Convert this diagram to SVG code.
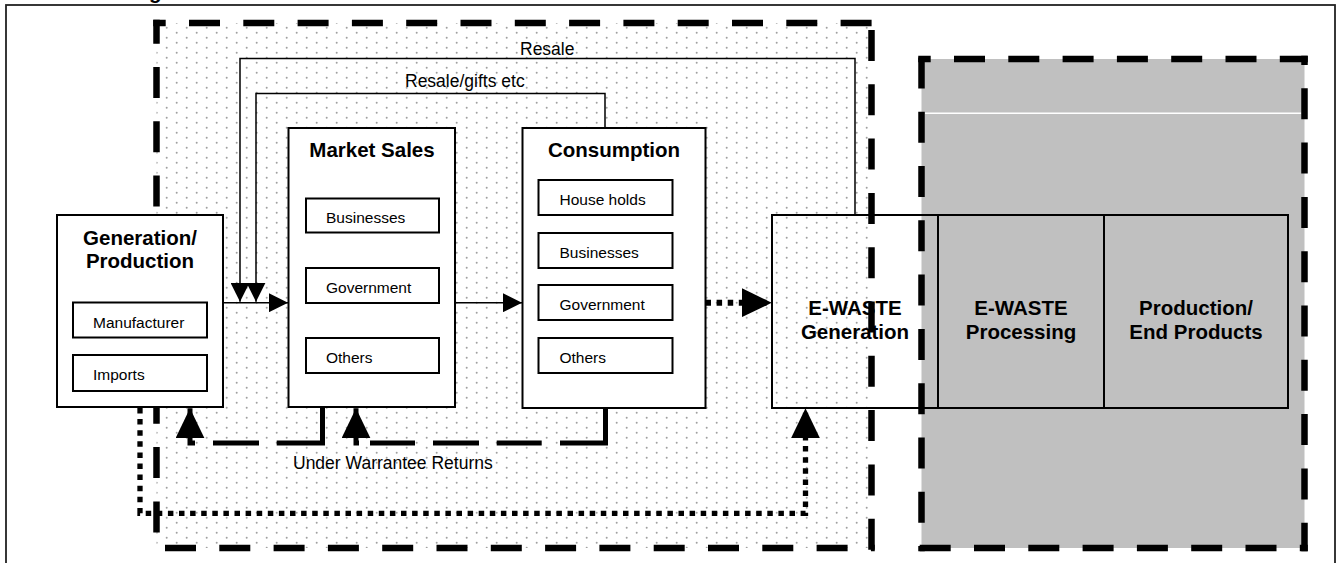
<svg xmlns="http://www.w3.org/2000/svg" width="1337" height="563" viewBox="0 0 1337 563">
<defs>
<style>
text{font-family:"Liberation Sans",Arial,sans-serif;fill:#000}
.title{font-size:20.5px;font-weight:bold;text-anchor:middle}
.lbl{font-size:15.5px}
.clbl{font-size:17.5px}
.box{fill:#fff;stroke:#000;stroke-width:2}
.open{fill:none;stroke:#000;stroke-width:2}
.conn{fill:none;stroke:#000;stroke-width:1.5}
.edge{stroke:#000;stroke-width:6.5;stroke-dasharray:31 23.3;fill:none}
.dot{fill:none;stroke:#000;stroke-dasharray:5.5 5.6}
.dash{fill:none;stroke:#000;stroke-width:5}
</style>
<pattern id="dots" width="20" height="10" patternUnits="userSpaceOnUse">
<rect width="20" height="10" fill="#fff"/>
<circle cx="6.7" cy="7.7" r="1" fill="#a0a0a0"/>
<circle cx="16.7" cy="2.7" r="1" fill="#a0a0a0"/>
</pattern>
<marker id="arrS" markerUnits="userSpaceOnUse" markerWidth="19" markerHeight="19" refX="19" refY="9.5" orient="auto">
<path d="M0,0 L19,9.5 L0,19 z" fill="#000"/>
</marker>
<marker id="arrB" markerUnits="userSpaceOnUse" markerWidth="30" markerHeight="29" refX="30" refY="14.5" orient="auto">
<path d="M0,0 L30,14.5 L0,29 z" fill="#000"/>
</marker>
</defs>

<text x="149" y="-1" style="font-size:20.5px;font-weight:bold">g</text>
<rect x="6" y="5" width="1329" height="620" fill="none" stroke="#222" stroke-width="1.8"/>

<g id="zone-market">
<rect x="156.5" y="23" width="715" height="525" fill="url(#dots)"/>
</g>
<g id="zone-recycling">
<rect x="921.5" y="59" width="383" height="489" fill="#c0c0c0"/>
<line x1="925" y1="113.3" x2="1301.5" y2="113.3" stroke="#fff" stroke-width="1.5"/>
</g>

<g id="ewaste-generation">
<rect class="open" x="772" y="215" width="166" height="193"/>
<text class="title" x="855" y="315">E-WASTE</text>
<text class="title" x="855" y="338.5">Generation</text>
</g>
<g id="ewaste-processing">
<rect class="open" x="938" y="215" width="166" height="193"/>
<text class="title" x="1021" y="315">E-WASTE</text>
<text class="title" x="1021" y="338.5">Processing</text>
</g>
<g id="end-products">
<rect class="open" x="1104" y="215" width="184" height="193"/>
<text class="title" x="1196" y="315">Production/</text>
<text class="title" x="1196" y="338.5">End Products</text>
</g>

<g id="zone-borders">
<line class="edge" x1="153.25" y1="23" x2="874.75" y2="23" stroke-dashoffset="18.55"/>
<line class="edge" x1="871.5" y1="19.75" x2="871.5" y2="551.25" stroke-dashoffset="44.05"/>
<line class="edge" x1="153.25" y1="548" x2="874.75" y2="548" stroke-dashoffset="42.55"/>
<line class="edge" x1="156.5" y1="19.75" x2="156.5" y2="551.25" stroke-dashoffset="7.05"/>
<line class="edge" x1="918.25" y1="59" x2="1307.75" y2="59" stroke-dashoffset="18.55"/>
<line class="edge" x1="921.5" y1="55.75" x2="921.5" y2="551.25" stroke-dashoffset="52.65"/>
<line class="edge" x1="1304.5" y1="55.75" x2="1304.5" y2="551.25" stroke-dashoffset="21.75"/>
<line class="edge" x1="918.25" y1="548" x2="1307.75" y2="548" stroke-dashoffset="52.85"/>
</g>

<g id="generation">
<rect class="box" x="57" y="215" width="166" height="192"/>
<text class="title" x="140" y="245">Generation/</text>
<text class="title" x="140" y="268.3">Production</text>
<rect class="box" x="73" y="302.5" width="134" height="35"/>
<text class="lbl" x="93" y="328">Manufacturer</text>
<rect class="box" x="73" y="355" width="134" height="36"/>
<text class="lbl" x="93" y="380">Imports</text>
</g>

<g id="market-sales">
<rect class="box" x="288.5" y="128" width="166.5" height="279"/>
<text class="title" x="372" y="156.7">Market Sales</text>
<rect class="box" x="306" y="198.5" width="133" height="34"/>
<text class="lbl" x="326" y="223">Businesses</text>
<rect class="box" x="306" y="268" width="133" height="35"/>
<text class="lbl" x="326" y="293">Government</text>
<rect class="box" x="306" y="338" width="133" height="35"/>
<text class="lbl" x="326" y="363">Others</text>
</g>

<g id="consumption">
<rect class="box" x="522.5" y="128" width="183" height="280"/>
<text class="title" x="614" y="156.7">Consumption</text>
<rect class="box" x="538.5" y="180" width="134" height="35"/>
<text class="lbl" x="559.5" y="204.5">House holds</text>
<rect class="box" x="538.5" y="233" width="134" height="35"/>
<text class="lbl" x="559.5" y="257.5">Businesses</text>
<rect class="box" x="538.5" y="285" width="134" height="35"/>
<text class="lbl" x="559.5" y="310">Government</text>
<rect class="box" x="538.5" y="338" width="134" height="35"/>
<text class="lbl" x="559.5" y="363">Others</text>
</g>

<g id="connectors">
<path class="conn" d="M855,215 V58.5 H240 V301.7" marker-end="url(#arrS)"/>
<path class="conn" d="M605,128 V93.5 H256 V301.7" marker-end="url(#arrS)"/>
<path class="conn" d="M223,302.7 H288" marker-end="url(#arrS)"/>
<path class="conn" d="M455,302.7 H522" marker-end="url(#arrS)"/>
<path class="dot" stroke-width="6" d="M705.5,302.7 H771.7" marker-end="url(#arrB)"/>
<path class="dash" stroke-dasharray="81.8 17.7 46 18 40" d="M322.5,407 V443 H190 V408.3" marker-end="url(#arrB)"/>
<path class="dash" stroke-dasharray="80.5 18.3 45 17.7 46 18 45 11 38" d="M605.5,408 V443 H356 V408.3" marker-end="url(#arrB)"/>
<path class="dot" stroke-width="5.3" d="M140,408 V513.3 H805.5 V408.3" marker-end="url(#arrB)"/>
<text class="clbl" x="520" y="55">Resale</text>
<text class="clbl" x="405" y="87.3">Resale/gifts etc</text>
<text class="clbl" x="293" y="469">Under Warrantee Returns</text>
</g>
</svg>
